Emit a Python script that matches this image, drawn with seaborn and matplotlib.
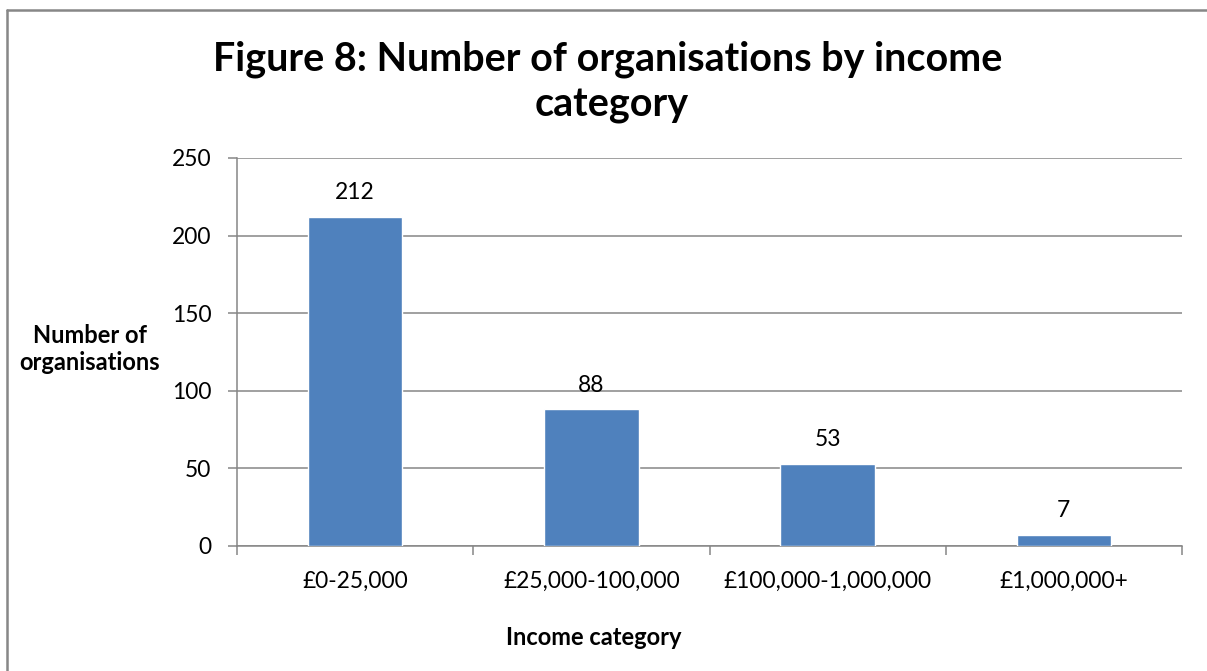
import matplotlib
matplotlib.use("Agg")
import matplotlib.pyplot as plt
from matplotlib.lines import Line2D
import seaborn as sns
import pandas as pd

categories = ["£0-25,000", "£25,000-100,000", "£100,000-1,000,000", "£1,000,000+"]
values = [212, 88, 53, 7]
y_ticks = [0, 50, 100, 150, 200, 250]
title_lines = ["Figure 8: Number of organisations by income", "category"]
ylabel_lines = ["Number of", "organisations"]
xlabel = "Income category"

sns.set_style("white")
plt.rcParams['font.family'] = ['Lato', 'DejaVu Sans']
plt.rcParams['text.color'] = 'black'
plt.rcParams['xtick.color'] = 'black'
plt.rcParams['ytick.color'] = 'black'
plt.rcParams['axes.labelcolor'] = 'black'

W, H = 1207, 671
fig = plt.figure(figsize=(W / 100, H / 100), dpi=100)
renderer = fig.canvas.get_renderer()


def fit_size(text, target_px, weight="normal", base=20.0):
    t = fig.text(0, 0, text, fontsize=base, fontweight=weight)
    w = t.get_window_extent(renderer=renderer).width
    t.remove()
    return base * target_px / w


tick_fs = fit_size("£0-25,000", 106)
lab_fs = fit_size("Number of", 114, "bold")
title_fs = fit_size(title_lines[0], 790, "bold")

ax = fig.add_axes([237 / W, 1 - 546 / H, (1182 - 237) / W, (546 - 158) / H])

df = pd.DataFrame({"cat": categories, "val": values})
sns.barplot(data=df, x="cat", y="val", color="#4F81BD", saturation=1,
            width=0.40, ax=ax, zorder=3)

grid_c = "#868686"
ax.set_ylim(0, 250)
ax.set_xlim(-0.5, 3.5)
ax.set_yticks(y_ticks)
ax.yaxis.grid(True, color=grid_c, linewidth=1.1, zorder=0)
ax.set_axisbelow(True)
for s in ["top", "right"]:
    ax.spines[s].set_visible(False)
for s in ["left", "bottom"]:
    ax.spines[s].set_color(grid_c)
    ax.spines[s].set_linewidth(1.1)

ax.tick_params(axis="y", which="major", length=6.5, width=1.1, color=grid_c,
               labelcolor="black", labelsize=tick_fs, pad=12, direction="out",
               left=True)
ax.tick_params(axis="x", which="major", length=0, labelsize=tick_fs, pad=18,
               labelcolor="black")
ax.set_xticks([i - 0.5 for i in range(len(categories) + 1)], minor=True)
ax.tick_params(axis="x", which="minor", length=6.5, width=1.1, color=grid_c,
               direction="out", bottom=True)

ax.bar_label(ax.containers[0], labels=[str(v) for v in values],
             padding=10, fontsize=tick_fs, color="black")

ax.set_xlabel("")
ax.set_ylabel("")

fig.text(506 / W, 1 - 645 / H, xlabel, ha="left", va="baseline",
         fontsize=lab_fs, fontweight="bold", color="black")
fig.text(90 / W, 1 - 343 / H, ylabel_lines[0], ha="center", va="baseline",
         fontsize=lab_fs, fontweight="bold", color="black")
fig.text(90 / W, 1 - 370 / H, ylabel_lines[1], ha="center", va="baseline",
         fontsize=lab_fs, fontweight="bold", color="black")
fig.text(608 / W, 1 - 70 / H, title_lines[0], ha="center", va="baseline",
         fontsize=title_fs, fontweight="bold", color="black")
fig.text(612 / W, 1 - 117 / H, title_lines[1], ha="center", va="baseline",
         fontsize=title_fs, fontweight="bold", color="black")

# outer chart border (top and left edges visible)
fig.add_artist(Line2D([6.5 / W, 1], [1 - 9.5 / H, 1 - 9.5 / H],
                      transform=fig.transFigure, color="#878787", linewidth=1.8))
fig.add_artist(Line2D([6.5 / W, 6.5 / W], [0, 1 - 9.5 / H],
                      transform=fig.transFigure, color="#878787", linewidth=1.8))

fig.savefig("out.png", dpi=100, facecolor="white")
